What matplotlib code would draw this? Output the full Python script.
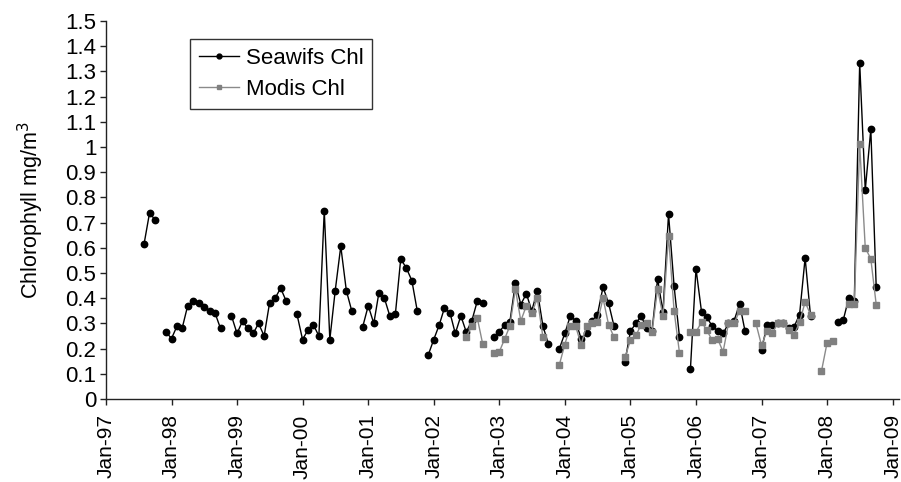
import numpy as np
import pandas as pd
import matplotlib
matplotlib.use("Agg")
import matplotlib.pyplot as plt
import matplotlib.dates as mdates
from matplotlib.ticker import FuncFormatter

plt.rcParams["font.family"] = ["Liberation Sans", "DejaVu Sans"]

nan = np.nan

# Monthly chlorophyll (mg/m3), one row per year, Jan..Dec
seawifs_chl = [
    nan, nan, nan, nan, nan, nan, nan, 0.615, 0.74, 0.71, nan, 0.266,          # 1997
    0.24, 0.29, 0.28, 0.37, 0.39, 0.38, 0.365, 0.35, 0.34, 0.28, nan, 0.33,    # 1998
    0.26, 0.31, 0.28, 0.26, 0.30, 0.25, 0.38, 0.40, 0.44, 0.39, nan, 0.336,    # 1999
    0.236, 0.275, 0.295, 0.25, 0.747, 0.236, 0.43, 0.606, 0.43, 0.35, nan, 0.286,  # 2000
    0.37, 0.30, 0.42, 0.40, 0.33, 0.336, 0.556, 0.52, 0.47, 0.35, nan, 0.174,  # 2001
    0.236, 0.295, 0.36, 0.343, 0.26, 0.33, 0.266, 0.31, 0.39, 0.38, nan, 0.246,  # 2002
    0.266, 0.295, 0.306, 0.46, 0.375, 0.418, 0.35, 0.43, 0.29, 0.22, nan, 0.198,  # 2003
    0.26, 0.33, 0.31, 0.24, 0.26, 0.31, 0.335, 0.444, 0.38, 0.29, nan, 0.147,  # 2004
    0.27, 0.30, 0.33, 0.28, 0.27, 0.477, 0.345, 0.734, 0.448, 0.246, nan, 0.119,  # 2005
    0.517, 0.345, 0.325, 0.29, 0.27, 0.26, 0.30, 0.31, 0.378, 0.27, nan, nan,  # 2006
    0.194, 0.295, 0.295, 0.30, 0.30, 0.28, 0.286, 0.335, 0.56, 0.33, nan, nan,  # 2007
    nan, nan, 0.305, 0.315, 0.40, 0.39, 1.333, 0.829, 1.07, 0.444,             # 2008
]

modis_chl = [
    nan, nan, nan, nan, nan, nan, nan, nan, nan, nan, nan, nan,                # 1997
    nan, nan, nan, nan, nan, nan, nan, nan, nan, nan, nan, nan,                # 1998
    nan, nan, nan, nan, nan, nan, nan, nan, nan, nan, nan, nan,                # 1999
    nan, nan, nan, nan, nan, nan, nan, nan, nan, nan, nan, nan,                # 2000
    nan, nan, nan, nan, nan, nan, nan, nan, nan, nan, nan, nan,                # 2001
    nan, nan, nan, nan, nan, nan, 0.246, 0.29, 0.32, 0.217, nan, 0.183,        # 2002
    0.187, 0.24, 0.29, 0.437, 0.31, 0.37, 0.34, 0.40, 0.246, nan, nan, 0.134,  # 2003
    0.216, 0.29, 0.29, 0.216, 0.29, 0.30, 0.305, 0.40, 0.295, 0.246, nan, 0.165,  # 2004
    0.233, 0.253, 0.295, 0.30, 0.266, 0.437, 0.33, 0.648, 0.35, 0.183, nan, 0.264,  # 2005
    0.266, 0.305, 0.275, 0.233, 0.24, 0.187, 0.30, 0.30, 0.35, 0.35, nan, 0.30,  # 2006
    0.213, 0.27, 0.26, 0.30, 0.30, 0.275, 0.253, 0.305, 0.385, 0.335, nan, 0.11,  # 2007
    0.222, 0.229, nan, nan, 0.378, 0.378, 1.01, 0.60, 0.556, 0.375,            # 2008
]

months = pd.date_range("1997-01-01", periods=len(seawifs_chl), freq="MS")
year_ticks = pd.date_range("1997-01-01", "2009-01-01", freq="YS")
y_ticks = np.arange(0, 1.51, 0.1)

W, H = 901, 482
fig = plt.figure(figsize=(W / 100, H / 100), dpi=100)
ax = fig.add_axes([106 / W, 1 - 399 / H, (899 - 106) / W, (399 - 21) / H])

ax.plot(months, seawifs_chl, color="black", lw=1.0, marker="o", ms=4.6,
        mec="black", mfc="black", label="Seawifs Chl", zorder=3)
ax.plot(months, modis_chl, color="#8a8a8a", lw=1.0, marker="s", ms=5.0,
        mec="#808080", mfc="#808080", label="Modis Chl", zorder=4)

ax.set_ylim(0, 1.5)
ax.set_xlim(pd.Timestamp("1997-01-01"), pd.Timestamp("2009-02-05"))
ax.set_yticks(y_ticks)
ax.yaxis.set_major_formatter(FuncFormatter(lambda v, p: f"{v:g}"))
ax.set_xticks(year_ticks)
ax.xaxis.set_major_formatter(mdates.DateFormatter("%b-%y"))
plt.setp(ax.get_xticklabels(), rotation=90)

for side in ("top", "right"):
    ax.spines[side].set_visible(False)
for side in ("left", "bottom"):
    ax.spines[side].set_linewidth(1.0)
    ax.spines[side].set_color("#222222")
ax.tick_params(axis="y", direction="out", length=4, width=1.0,
               color="#222222", labelsize=16, pad=3)
ax.tick_params(axis="x", direction="out", length=4, width=1.0,
               color="#222222", labelsize=15, pad=7)

ax.set_ylabel("Chlorophyll mg/m$^3$", fontsize=15.5, labelpad=14)

leg = ax.legend(loc="upper left", bbox_to_anchor=(190 / W, 1 - 39 / H),
                bbox_transform=fig.transFigure, fontsize=16, frameon=True,
                fancybox=False, edgecolor="black", handlelength=1.8,
                borderpad=0.4, labelspacing=0.45, handletextpad=0.3,
                borderaxespad=0)
leg.get_frame().set_linewidth(1.0)
for h in leg.legend_handles:
    h.set_markersize(3.5)

fig.savefig("out.png", dpi=100)
